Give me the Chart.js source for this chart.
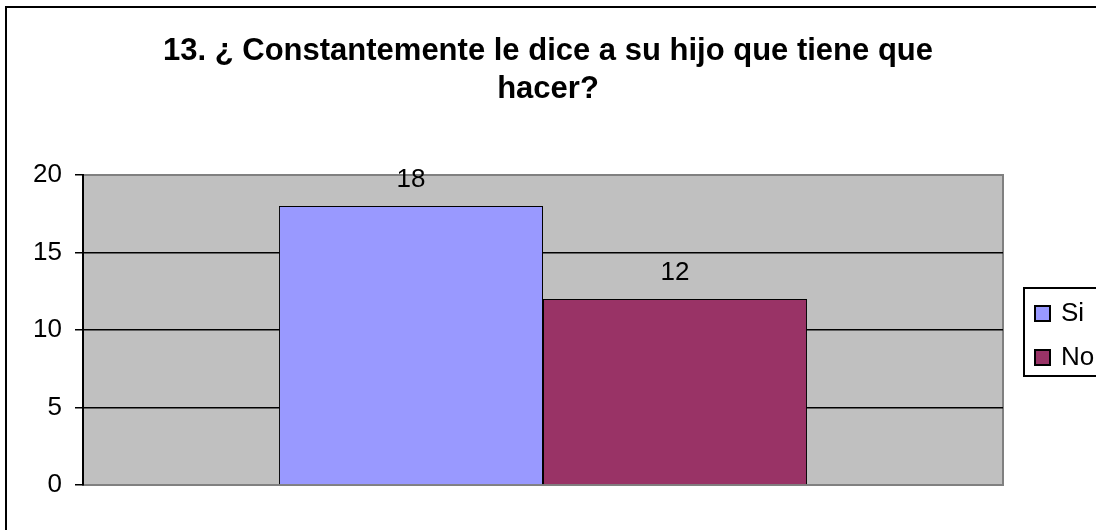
<!DOCTYPE html>
<html>
<head>
<meta charset="utf-8">
<script src="https://cdn.jsdelivr.net/npm/chart.js@4/dist/chart.umd.min.js"></script>
<style>
    body { margin: 0; background: #fff; }
    #wrap { width: 1096px; height: 530px; }
</style>
</head>
<body>
<div id="wrap"><canvas id="pregunta13" width="1096" height="530"></canvas></div>
<script>
    // datos de la pregunta 13
    const categories = [''];
    const seriesNames = ['Si', 'No'];
    const siValues = [18];
    const noValues = [12];
    const yTicks = [0, 5, 10, 15, 20];
    const titleLines = ['13. ¿ Constantemente le dice a su hijo que tiene que', 'hacer?'];

    const font = 'Liberation Sans, Arial, sans-serif';

    // fondo gris del area de grafico con borde
    const plotBackground = {
        id: 'plotBackground',
        beforeDraw(chart) {
            const { ctx, chartArea: a } = chart;
            ctx.save();
            ctx.fillStyle = '#c0c0c0';
            ctx.fillRect(a.left, a.top, a.right - a.left, a.bottom - a.top);
            ctx.strokeStyle = '#808080';
            ctx.lineWidth = 2;
            ctx.beginPath();
            ctx.moveTo(a.left, a.top);
            ctx.lineTo(a.right, a.top);
            ctx.lineTo(a.right, a.bottom);
            ctx.stroke();
            ctx.restore();
        }
    };

    // valores encima de cada barra
    const valueLabels = {
        id: 'valueLabels',
        afterDatasetsDraw(chart) {
            const { ctx } = chart;
            ctx.save();
            ctx.font = '26px ' + font;
            ctx.fillStyle = '#000';
            ctx.textAlign = 'center';
            ctx.textBaseline = 'middle';
            chart.data.datasets.forEach((ds, i) => {
                chart.getDatasetMeta(i).data.forEach((bar, j) => {
                    ctx.fillText(ds.data[j], bar.x, bar.y - 26);
                });
            });
            ctx.restore();
        }
    };

    // leyenda con recuadro, reserva su espacio a la derecha del grafico
    const boxLegend = {
        id: 'boxLegend',
        beforeInit(chart) {
            const box = {
                position: 'right',
                weight: 0,
                fullSize: false,
                options: {},
                isHorizontal: () => false,
                update(maxWidth, maxHeight) {
                    this.width = 93;
                    this.height = maxHeight;
                },
                draw() {
                    const ctx = chart.ctx;
                    const x0 = this.left + 21;
                    ctx.save();
                    ctx.strokeStyle = '#000';
                    ctx.lineWidth = 2;
                    ctx.strokeRect(x0, 288, 100, 88);
                    ctx.font = '26px ' + font;
                    ctx.textBaseline = 'middle';
                    chart.data.datasets.forEach((ds, i) => {
                        const y = 313 + i * 44;
                        ctx.fillStyle = ds.backgroundColor;
                        ctx.fillRect(x0 + 11, y - 7, 15, 15);
                        ctx.strokeRect(x0 + 11, y - 7, 15, 15);
                        ctx.fillStyle = '#000';
                        ctx.fillText(ds.label, x0 + 37, y + 1);
                    });
                    ctx.restore();
                }
            };
            Chart.layouts.addBox(chart, box);
        },
        afterDraw(chart) {
            // marco exterior
            const ctx = chart.ctx;
            ctx.save();
            ctx.strokeStyle = '#000';
            ctx.lineWidth = 2;
            ctx.strokeRect(6, 7, 1200, 700);
            ctx.restore();
        }
    };

    const ctx = document.getElementById('pregunta13').getContext('2d');
    const pregunta13Chart = new Chart(ctx, {
        type: 'bar',
        data: {
            labels: categories,
            datasets: [{
                label: seriesNames[0],
                data: siValues,
                backgroundColor: '#9999ff',
                borderColor: '#000',
                borderWidth: 1
            }, {
                label: seriesNames[1],
                data: noValues,
                backgroundColor: '#993366',
                borderColor: '#000',
                borderWidth: 1
            }]
        },
        options: {
            responsive: false,
            animation: false,
            layout: {
                padding: { left: 0, right: 0, top: 0, bottom: 37 }
            },
            datasets: {
                bar: { categoryPercentage: 0.574, barPercentage: 1 }
            },
            scales: {
                x: {
                    ticks: { display: false },
                    grid: { display: false },
                    border: { display: true, color: '#808080', width: 2 }
                },
                y: {
                    min: yTicks[0],
                    max: yTicks[yTicks.length - 1],
                    afterFit: scale => { scale.width = 83; },
                    afterBuildTicks: scale => { scale.ticks = yTicks.map(v => ({ value: v })); },
                    ticks: {
                        padding: 13,
                        color: '#000',
                        font: { family: font, size: 26 }
                    },
                    grid: {
                        color: c => (c.tick && c.tick.value > 0 && c.tick.value < 20) ? '#000' : 'rgba(0,0,0,0)',
                        tickColor: '#000',
                        tickLength: 8,
                        lineWidth: 1.5
                    },
                    border: { display: true, color: '#000', width: 2 }
                }
            },
            plugins: {
                legend: { display: false },
                tooltip: { enabled: false },
                title: {
                    display: true,
                    text: titleLines,
                    color: '#000',
                    font: { family: font, size: 31, weight: 'bold', lineHeight: '38px' },
                    padding: { top: 32, bottom: 67 }
                }
            }
        },
        plugins: [plotBackground, valueLabels, boxLegend]
    });
</script>
</body>
</html>
